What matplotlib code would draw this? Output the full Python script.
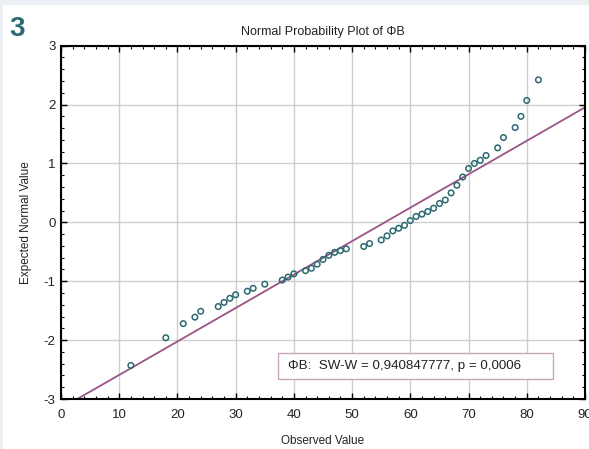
import matplotlib
matplotlib.use('Agg')
import matplotlib.pyplot as plt
from matplotlib.patches import Rectangle
from matplotlib.ticker import MultipleLocator

plt.rcParams['font.family'] = ['Liberation Sans', 'DejaVu Sans']
plt.rcParams['axes.unicode_minus'] = False

# Data
observed = [12, 18, 21, 23, 24, 27, 28, 29, 30, 32,
            33, 35, 38, 39, 40, 42, 43, 44, 45, 46,
            47, 48, 49, 52, 53, 55, 56, 57, 58, 59,
            60, 61, 62, 63, 64, 65, 66, 67, 68, 69,
            70, 71, 72, 73, 75, 76, 78, 79, 80, 82]
expected = [-2.43, -1.96, -1.72, -1.61, -1.51, -1.43, -1.36, -1.29, -1.23, -1.17,
            -1.12, -1.05, -0.98, -0.93, -0.875, -0.82, -0.78, -0.71, -0.63, -0.56,
            -0.51, -0.48, -0.45, -0.41, -0.36, -0.30, -0.23, -0.145, -0.10, -0.05,
            0.03, 0.10, 0.14, 0.185, 0.24, 0.32, 0.38, 0.50, 0.63, 0.77,
            0.915, 1.00, 1.055, 1.135, 1.265, 1.44, 1.61, 1.80, 2.07, 2.42]

# reference line (slope / intercept)
line_slope = 0.0568
line_intercept = -3.159
line_x = [0, 90]

title = 'Normal Probability Plot of ΦB'
stats_text = 'ΦB:  SW-W = 0,940847777, p = 0,0006'

teal = '#2b6a70'
purple = '#9b5485'

fig = plt.figure(figsize=(5.89, 4.49), dpi=100)
fig.patch.set_facecolor('white')

# light frame strips at top / left
fig.patches.append(Rectangle((0, 1 - 5 / 449), 1, 5 / 449, transform=fig.transFigure,
                             facecolor='#edf1f5', edgecolor='none', zorder=0))
fig.patches.append(Rectangle((0, 0), 3 / 589, 1, transform=fig.transFigure,
                             facecolor='#edf1f5', edgecolor='none', zorder=0))

ax = fig.add_axes([61 / 589, 1 - 399 / 449, 524 / 589, 353.3 / 449])

ax.grid(True, color='#cfcfcf', linewidth=1.0, zorder=0)
ax.set_axisbelow(True)

ax.plot(line_x, [line_intercept + line_slope * v for v in line_x],
        color=purple, linewidth=1.3, zorder=2)
ax.scatter(observed, expected, s=16, facecolors='none', edgecolors=teal,
           linewidths=1.1, zorder=3)

ax.set_xlim(0, 90)
ax.set_ylim(-3, 3)
ax.xaxis.set_major_locator(MultipleLocator(10))
ax.xaxis.set_minor_locator(MultipleLocator(2))
ax.yaxis.set_major_locator(MultipleLocator(1))
ax.yaxis.set_minor_locator(MultipleLocator(0.2))
ax.tick_params(which='both', direction='in', top=True, right=True,
               colors='black', labelsize=9.5, labelcolor='#222222')
ax.tick_params(which='major', length=4, width=1)
ax.tick_params(which='minor', length=2, width=0.8)
ax.tick_params(axis='x', which='major', pad=7)
ax.tick_params(axis='y', which='major', pad=4)
for sp in ax.spines.values():
    sp.set_linewidth(1.5)
    sp.set_color('black')

ax.set_xlabel('Observed Value', fontsize=8.5, color='#222222', labelpad=10)
ax.set_ylabel('Expected Normal Value', fontsize=8.5, color='#222222', labelpad=8)
ax.set_title(title, fontsize=9, color='#222222', pad=8)

# stats box
ax.add_patch(Rectangle((0.414, 0.056), 0.525, 0.073, transform=ax.transAxes,
                       facecolor='white', edgecolor='#c9a5bd', linewidth=1.0, zorder=5))
ax.text(0.433, 0.093, stats_text, transform=ax.transAxes, fontsize=9.6,
        color='#222222', va='center', ha='left', zorder=6)

fig.text(9 / 589, 1 - 36 / 449, '3', fontsize=20, fontweight='bold', color=teal)

fig.savefig('out.png', dpi=100)
